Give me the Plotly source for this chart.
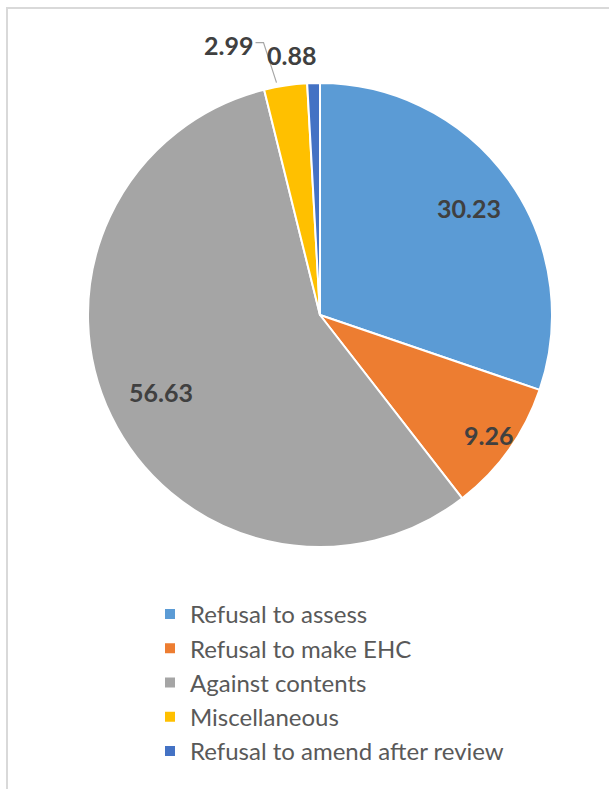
import math
import plotly.graph_objects as go

categories = ["Refusal to assess", "Refusal to make EHC", "Against contents",
              "Miscellaneous", "Refusal to amend after review"]
values = [30.23, 9.26, 56.63, 2.99, 0.88]
colors = ["#5B9BD5", "#ED7D31", "#A5A5A5", "#FFC000", "#4472C4"]

# label placement (style): radial fraction for inside labels
inside_label_r = [0.79, 0.89, 0.76]

W, H = 609, 789
CX, CY, R = 320, 315, 232
LABEL_FONT = dict(family="Lato", size=25, color="#404040", weight="bold")

fig = go.Figure(go.Pie(
    labels=categories, values=values, sort=False, direction="clockwise",
    rotation=0, marker=dict(colors=colors, line=dict(color="white", width=2)),
    textinfo="none",
    domain=dict(x=[(CX - R) / W, (CX + R) / W], y=[1 - (CY + R) / H, 1 - (CY - R) / H]),
    hoverinfo="label+value",
))

def px2paper(px, py):
    return px / W, 1 - py / H

total = sum(values)
cum = 0
annotations = []
shapes = []
for i, (cat, v) in enumerate(zip(categories, values)):
    mid = (cum + v / 2) / total * 2 * math.pi
    cum += v
    if v > 5:
        rf = inside_label_r[i]
        tx, ty = px2paper(CX + R * rf * math.sin(mid), CY - R * rf * math.cos(mid))
        annotations.append(dict(x=tx, y=ty, xref="paper", yref="paper", text=f"{v:.2f}",
                                showarrow=False, xanchor="center", yanchor="middle",
                                font=LABEL_FONT))
        continue
    ex, ey = CX + R * math.sin(mid), CY - R * math.cos(mid)
    if v > 2:
        # label with leader line
        start = (ex - 9, ey - 3)
        elbow = (ex - 22, ey - 43)
        end = (elbow[0] - 8, elbow[1])
        p0 = px2paper(*start); p1 = px2paper(*elbow); p2 = px2paper(*end)
        shapes.append(dict(type="path", xref="paper", yref="paper",
                           path=f"M {p0[0]},{p0[1]} L {p1[0]},{p1[1]} L {p2[0]},{p2[1]}",
                           line=dict(color="#A6A6A6", width=1.2)))
        tx, ty = px2paper(end[0] - 1, end[1] + 2)
        annotations.append(dict(x=tx, y=ty, xref="paper", yref="paper", text=f"{v:.2f}",
                                showarrow=False, xanchor="right", yanchor="middle",
                                font=LABEL_FONT))
    else:
        tx, ty = px2paper(ex - 22, ey - 28)
        annotations.append(dict(x=tx, y=ty, xref="paper", yref="paper", text=f"{v:.2f}",
                                showarrow=False, xanchor="center", yanchor="middle",
                                font=LABEL_FONT))

# chart border
shapes.append(dict(type="rect", xref="paper", yref="paper",
                   x0=7 / W, x1=1.05, y0=-0.05, y1=1 - 8 / H,
                   line=dict(color="#D9D9D9", width=2), fillcolor="rgba(0,0,0,0)"))

fig.update_layout(
    width=W, height=H, margin=dict(l=0, r=0, t=0, b=0),
    paper_bgcolor="white", plot_bgcolor="white",
    showlegend=True,
    legend=dict(x=150 / W, xanchor="left", y=1 - 592 / H, yanchor="top",
                orientation="v", traceorder="normal",
                font=dict(family="Lato", size=24, color="#595959"),
                bgcolor="rgba(0,0,0,0)"),
    annotations=annotations, shapes=shapes,
)

fig.write_html("out.html")
